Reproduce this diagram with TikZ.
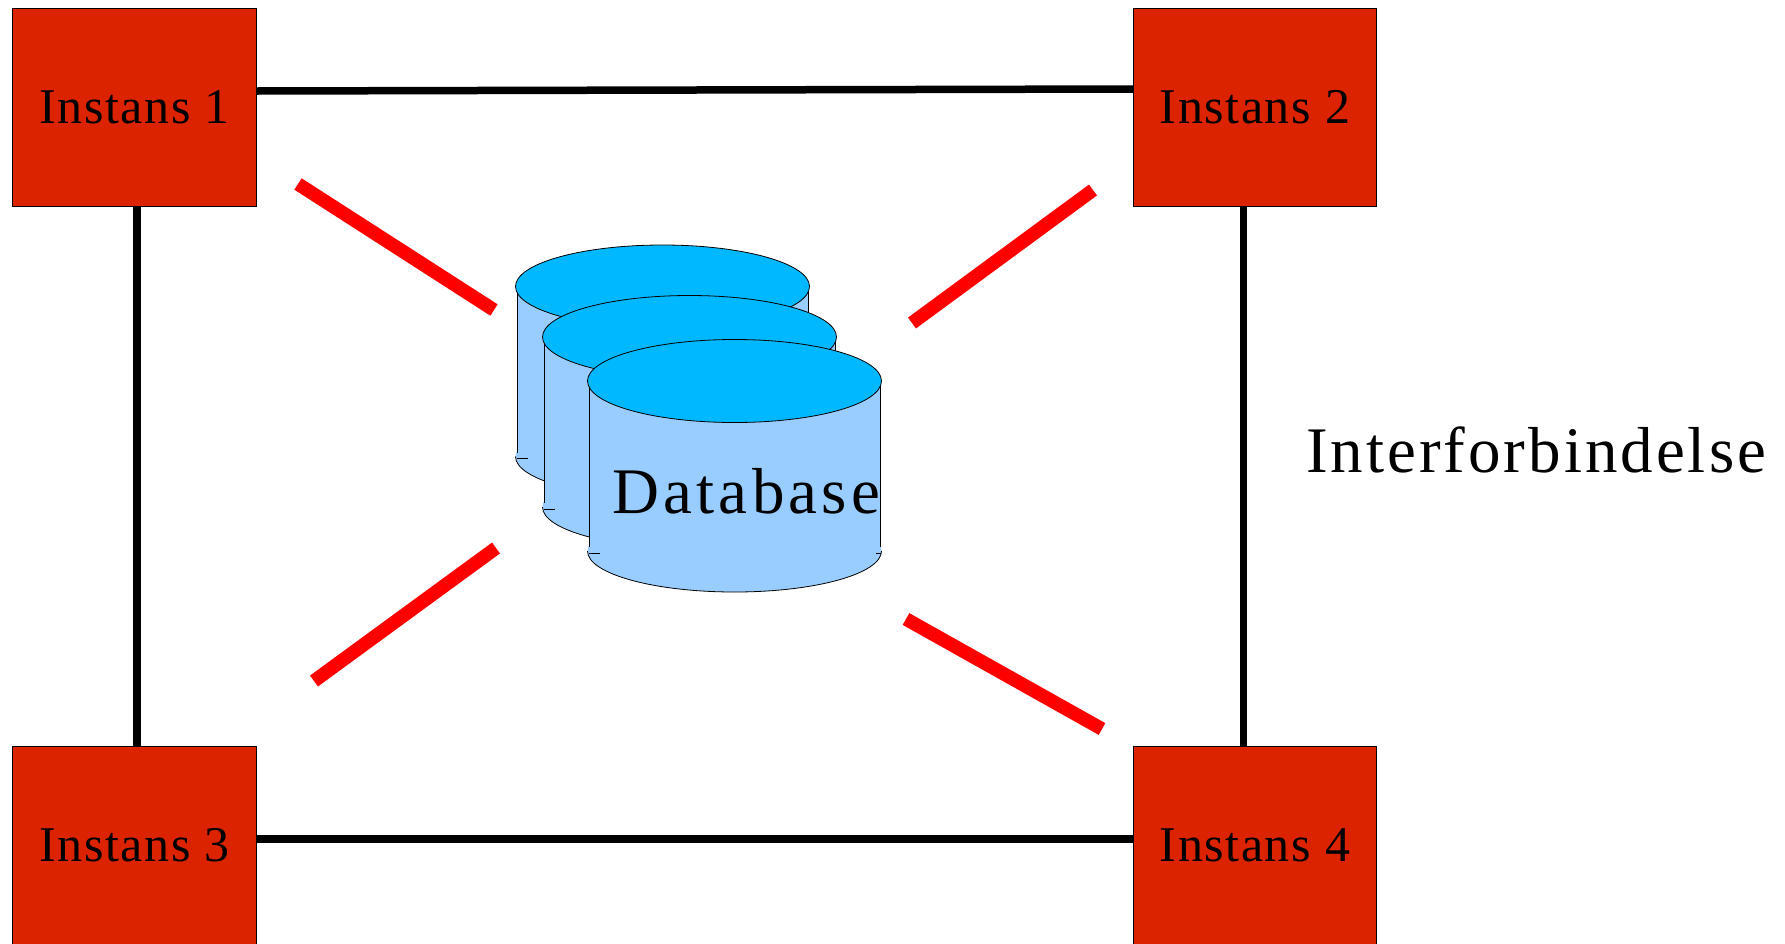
\documentclass[tikz,border=0pt]{standalone}
\usepackage{fontspec}
\newfontfamily\boxfont[LetterSpace=3.2]{Liberation Serif}
\newfontfamily\dbfont[LetterSpace=6.6]{Liberation Serif}
\newfontfamily\interfont[LetterSpace=4.6]{Liberation Serif}
\definecolor{instred}{HTML}{DC2300}
\definecolor{cylside}{HTML}{99CCFF}
\definecolor{cyltop}{HTML}{00B8FF}
\tikzset{
  x=1pt,y=-1pt,
  instbox/.style={draw=black,line width=0.7pt,fill=instred,minimum width=243.5pt,minimum height=198pt,inner sep=0pt,
    text height=33pt,text depth=0pt,font=\boxfont\fontsize{50}{60}\selectfont},
  bigtext/.style={anchor=base west,inner sep=0pt},
  interlink/.style={draw=black,line width=7.5pt},
  dblink/.style={draw=red,line width=13.5pt},
  cylline/.style={draw=black,line width=0.8pt}
}
\newcommand{\dbcyl}[2]{%
  \fill[cylside] (#1-146,#2) rectangle (#1+146,#2+170);
  \fill[cylside] (#1,#2+170) ellipse [x radius=147,y radius=41];
  \draw[cylline] (#1-147,#2+170) arc [start angle=180,end angle=360,x radius=147,y radius=-41];
  \draw[cylline] (#1-145.5,#2) -- (#1-145.5,#2+166) (#1+145.5,#2) -- (#1+145.5,#2+166);
  \draw[cylline] (#1-146,#2+172) -- (#1-135,#2+172) (#1+146,#2+172) -- (#1+141,#2+172);
  \draw[cylline,fill=cyltop] (#1,#2) ellipse [x radius=147,y radius=41.5];
}
\begin{document}
\begin{tikzpicture}
\useasboundingbox (0,0) rectangle (1785,943);
\node[instbox] (i1) at (134.5,107) {Instans 1\hspace{7pt}};
\node[instbox] (i2) at (1255,107) {Instans 2\hspace{7pt}};
\node[instbox] (i3) at (134.5,845) {Instans 3\hspace{7pt}};
\node[instbox] (i4) at (1255,845) {Instans 4\hspace{7pt}};
\draw[interlink] ([yshift=16pt]i1.east) -- ([yshift=18pt]i2.west);
\draw[interlink] ([xshift=2.5pt]i1.south) -- ([xshift=2.5pt]i3.north);
\draw[interlink] ([xshift=-11.5pt]i2.south) -- ([xshift=-11.5pt]i4.north);
\draw[interlink] ([yshift=6pt]i3.east) -- ([yshift=6pt]i4.west);
\coordinate (a1) at (298,184); \coordinate (a2) at (494,310);
\coordinate (b1) at (1093,190); \coordinate (b2) at (912,323);
\coordinate (c1) at (496,548); \coordinate (c2) at (314,681);
\coordinate (d1) at (906,619); \coordinate (d2) at (1102,729);
\draw[dblink] (a1) -- (a2);
\draw[dblink] (b1) -- (b2);
\draw[dblink] (c1) -- (c2);
\draw[dblink] (d1) -- (d2);
\dbcyl{662.5}{286.5}
\dbcyl{689.5}{337}
\dbcyl{734.5}{381}
\node[bigtext,font=\dbfont\fontsize{65}{78}\selectfont] (db) at (612,513) {Database};
\node[bigtext,font=\interfont\fontsize{65}{78}\selectfont] (inter) at (1306,472) {Interforbindelse};
\end{tikzpicture}
\end{document}
